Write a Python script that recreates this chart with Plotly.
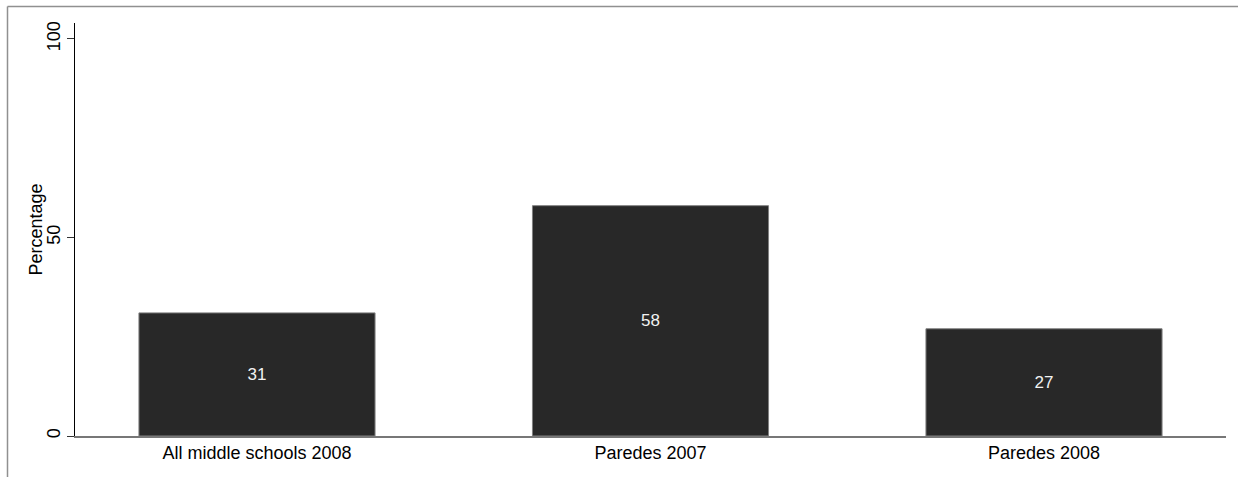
import plotly.graph_objects as go

categories = ["All middle schools 2008", "Paredes 2007", "Paredes 2008"]
values = [31, 58, 27]
y_ticks = [0, 50, 100]

W, H = 1238, 477
L, R, T, B = 75, 12, 23, 41
pw = W - L - R
ph = H - T - B

fig = go.Figure(
    go.Bar(
        x=categories,
        y=values,
        width=0.6,
        marker=dict(color="#282828", line=dict(color="#808080", width=1)),
        text=[str(v) for v in values],
        textposition="inside",
        insidetextanchor="middle",
        textangle=0,
        textfont=dict(family="Liberation Sans, Arial, sans-serif", size=17, color="#f2f2f2"),
        hoverinfo="skip",
    )
)

fig.update_layout(
    width=W,
    height=H,
    margin=dict(l=L, r=R, t=T, b=B, pad=0),
    paper_bgcolor="white",
    plot_bgcolor="white",
    showlegend=False,
    font=dict(family="Liberation Sans, Arial, sans-serif", size=18, color="black"),
    xaxis=dict(
        type="category",
        range=[-0.4625, 2.4625],
        showgrid=False,
        zeroline=False,
        showline=True,
        linecolor="#777777",
        linewidth=1.5,
        ticks="",
        tickfont=dict(size=18, color="black"),
    ),
    yaxis=dict(
        range=[0, 104],
        tickvals=y_ticks,
        ticktext=[str(v) for v in y_ticks],
        tickangle=-90,
        showgrid=False,
        zeroline=False,
        showline=True,
        linecolor="black",
        linewidth=1.2,
        ticks="outside",
        ticklen=7,
        tickcolor="#333333",
        tickwidth=1,
        tickfont=dict(size=18, color="black"),
    ),
)

# y-axis title as annotation for precise placement
fig.add_annotation(
    text="Percentage", xref="paper", yref="paper",
    x=(35 - L) / pw, y=(H - B - 229.5) / ph,
    xanchor="center", yanchor="middle", textangle=-90, showarrow=False,
    font=dict(size=18, color="black"),
)

# outer frame (top and left edges visible)
x_left = (7.5 - L) / pw
y_top = (H - B - 6.5) / ph
fig.add_shape(type="line", xref="paper", yref="paper", x0=x_left, x1=(W - L + 20) / pw,
              y0=y_top, y1=y_top, line=dict(color="#909090", width=1.5))
fig.add_shape(type="line", xref="paper", yref="paper", x0=x_left, x1=x_left,
              y0=y_top, y1=-(B + 20) / ph, line=dict(color="#909090", width=1.5))

fig.write_html("out.html", config={"displayModeBar": False},
               post_script="document.body.style.margin='0';")
